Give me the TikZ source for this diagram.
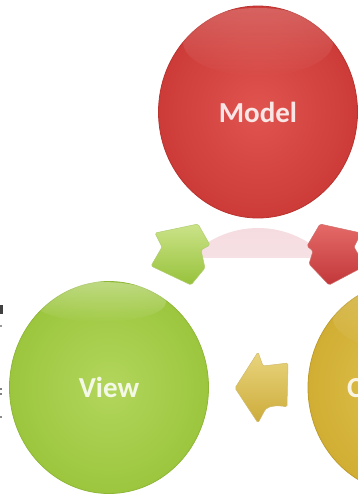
\documentclass[tikz,border=0pt]{standalone}
\usepackage{fontspec}
\setmainfont{Carlito}
\usetikzlibrary{shapes.geometric,fadings}
\definecolor{redIn}{HTML}{E0544F}
\definecolor{redOut}{HTML}{CC3B38}
\definecolor{redEdge}{HTML}{B9332F}
\definecolor{grnIn}{HTML}{B2D65C}
\definecolor{grnOut}{HTML}{9CC63E}
\definecolor{grnEdge}{HTML}{8FB737}
\definecolor{ylwIn}{HTML}{E0C352}
\definecolor{ylwOut}{HTML}{D1AE33}
\definecolor{ylwEdge}{HTML}{BE9C2B}
\definecolor{pinkR}{HTML}{F5DCE0}
\definecolor{grnAL}{HTML}{CBE389}
\definecolor{grnAD}{HTML}{97C23A}
\definecolor{redAL}{HTML}{E46A68}
\definecolor{redAD}{HTML}{C2373A}
\definecolor{ylwAL}{HTML}{E9D57E}
\definecolor{ylwAD}{HTML}{CCAB3A}
\begin{document}
\begin{tikzpicture}[x=1pt,y=1pt,
  ball/.style={ellipse, minimum width=199pt, minimum height=212pt, inner sep=0pt,
    line width=0.8pt, font=\bfseries\fontsize{29}{29}\selectfont,
    text=white, text opacity=0.86},
  gloss/.style={white, path fading=south, fill opacity=0.2},
  blockarrow/.style={line width=0.5pt, line join=round, rounded corners=1.5pt},
  frag/.style={black!75}]
\useasboundingbox (0,0) rectangle (358,-499);
\clip (0,0) rectangle (358,-499);

% reflection of the Model circle
\begin{scope}
  \clip (200,-224) rectangle (315,-257);
  \shade[top color=pinkR, bottom color=white] (258,-334) ellipse (99.5 and 106);
\end{scope}

% circles
\node[ball, shade, inner color=redIn, outer color=redOut, draw=redEdge] (model) at (258,-112) {Model};
\node[ball, shade, inner color=grnIn, outer color=grnOut, draw=grnEdge] (view) at (109,-387.5) {View};
\node[ball, shade, inner color=ylwIn, outer color=ylwOut, draw=ylwEdge] (ctrl) at (407.5,-387.5) {Controller};

% glossy highlights
\fill[gloss] (258,-42) ellipse (75 and 34);
\fill[gloss, fill opacity=0.35] (100,-302) ellipse (66 and 20);
\fill[gloss] (407.5,-317) ellipse (75 and 34);

% block arrows
\shade[blockarrow, top color=grnAL, bottom color=grnAD, draw=grnEdge!70]
  (155,-233) -- (198,-224) -- (210,-245) -- (201,-250) -- (205,-268)
  -- (191,-285) -- (151,-266) -- (162,-247) -- cycle;
\shade[blockarrow, top color=redAL, bottom color=redAD, draw=redEdge!70]
  (361,-233) -- (320,-224) -- (307,-246) -- (313,-251) -- (309,-264)
  -- (329,-285) -- (365,-266) -- (354,-247) -- cycle;
\shade[blockarrow, top color=ylwAL, bottom color=ylwAD, draw=ylwEdge!70]
  (235,-388) -- (258,-352) -- (263,-366) -- (288,-363) -- (287,-407)
  .. controls (278,-405) and (269,-406) .. (265,-410) -- (258,-423) -- cycle;

% cropped fragments at the left edge
\fill[frag] (0,-305) rectangle (3,-314);
\fill[black!40] (0,-325) rectangle (2,-327);
\fill[black!50] (0,-388) rectangle (2,-390);
\fill[black!50] (0,-393) rectangle (2,-395);
\fill[black!45] (0,-416) rectangle (2,-418);
\end{tikzpicture}
\end{document}
